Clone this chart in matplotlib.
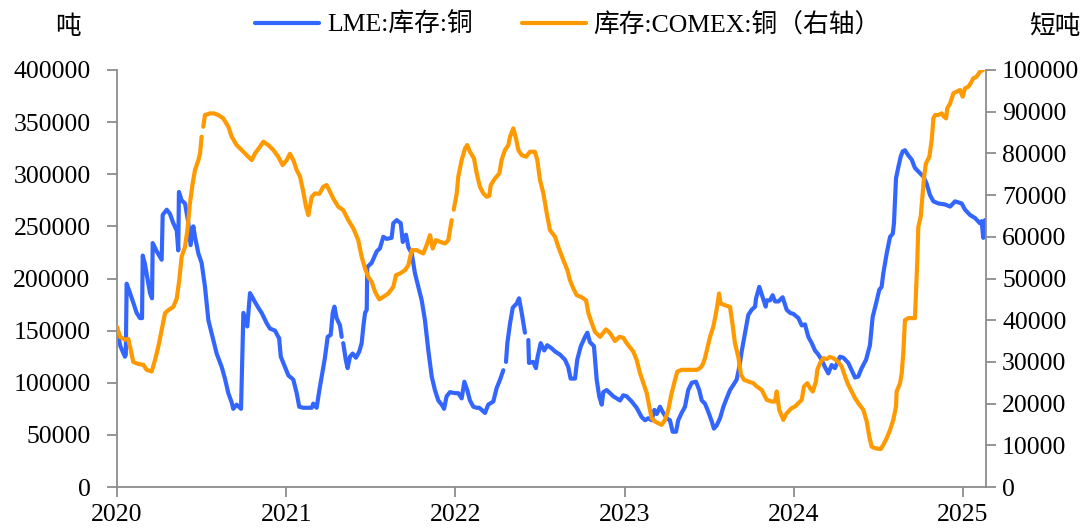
import numpy as np
import matplotlib
matplotlib.use("Agg")
import matplotlib.pyplot as plt

plt.rcParams['font.family'] = ['Liberation Serif', 'Noto Sans CJK SC']

# ---- data (decimal year, thousand tonnes / thousand short tons) ----
lme_t = [2020.000, 2020.020, 2020.047, 2020.052, 2020.057, 2020.077, 2020.100, 2020.116, 2020.136, 2020.148,
         2020.152, 2020.165, 2020.195, 2020.207, 2020.211, 2020.235, 2020.264, 2020.270, 2020.294, 2020.313,
         2020.333, 2020.353, 2020.362, 2020.366, 2020.382, 2020.402, 2020.422, 2020.435, 2020.451, 2020.461,
         2020.481, 2020.500, 2020.520, 2020.540, 2020.569, 2020.589, 2020.619, 2020.638, 2020.658, 2020.678,
         2020.687, 2020.707, 2020.733, 2020.747, 2020.770, 2020.786, 2020.810, 2020.835, 2020.855, 2020.885,
         2020.904, 2020.934, 2020.953, 2020.958, 2020.968, 2020.993, 2021.013, 2021.042, 2021.062, 2021.077,
         2021.101, 2021.151, 2021.160, 2021.180, 2021.196, 2021.210, 2021.229, 2021.245, 2021.263, 2021.275,
         2021.285, 2021.298, 2021.318, 2021.328, 2021.332, 2021.337, 2021.352, 2021.363, 2021.377, 2021.393,
         2021.412, 2021.432, 2021.446, 2021.456, 2021.466, 2021.476, 2021.479, 2021.505, 2021.535, 2021.554,
         2021.574, 2021.594, 2021.623, 2021.633, 2021.653, 2021.677, 2021.689, 2021.708, 2021.722, 2021.742,
         2021.761, 2021.781, 2021.801, 2021.820, 2021.840, 2021.860, 2021.879, 2021.899, 2021.919, 2021.933,
         2021.948, 2021.968, 2021.998, 2022.017, 2022.037, 2022.053, 2022.070, 2022.086, 2022.106, 2022.126,
         2022.141, 2022.155, 2022.175, 2022.194, 2022.224, 2022.244, 2022.264, 2022.283, 2022.291, 2022.299,
         2022.307, 2022.323, 2022.339, 2022.362, 2022.376, 2022.392, 2022.411, 2022.421, 2022.431, 2022.435,
         2022.460, 2022.476, 2022.486, 2022.504, 2022.525, 2022.543, 2022.569, 2022.589, 2022.618, 2022.648,
         2022.667, 2022.681, 2022.707, 2022.720, 2022.741, 2022.766, 2022.780, 2022.795, 2022.819, 2022.835,
         2022.850, 2022.865, 2022.874, 2022.894, 2022.914, 2022.933, 2022.953, 2022.973, 2022.992, 2023.012,
         2023.042, 2023.071, 2023.101, 2023.121, 2023.140, 2023.160, 2023.176, 2023.190, 2023.209, 2023.225,
         2023.249, 2023.268, 2023.284, 2023.304, 2023.317, 2023.337, 2023.357, 2023.376, 2023.397, 2023.422,
         2023.441, 2023.456, 2023.475, 2023.495, 2023.515, 2023.528, 2023.544, 2023.564, 2023.584, 2023.603,
         2023.623, 2023.643, 2023.662, 2023.678, 2023.692, 2023.712, 2023.731, 2023.751, 2023.771, 2023.777,
         2023.796, 2023.810, 2023.834, 2023.840, 2023.859, 2023.875, 2023.889, 2023.909, 2023.934, 2023.958,
         2023.978, 2023.998, 2024.027, 2024.047, 2024.066, 2024.086, 2024.106, 2024.125, 2024.145, 2024.165,
         2024.184, 2024.204, 2024.224, 2024.243, 2024.273, 2024.293, 2024.322, 2024.342, 2024.362, 2024.381,
         2024.401, 2024.427, 2024.450, 2024.466, 2024.486, 2024.505, 2024.519, 2024.529, 2024.549, 2024.569,
         2024.585, 2024.592, 2024.604, 2024.618, 2024.632, 2024.644, 2024.657, 2024.677, 2024.697, 2024.716,
         2024.746, 2024.765, 2024.785, 2024.805, 2024.825, 2024.854, 2024.894, 2024.924, 2024.953, 2024.992,
         2025.012, 2025.041, 2025.071, 2025.100, 2025.110, 2025.120, 2025.130]
lme_kt = [150, 135, 125, 127, 195, 186, 175, 167, 162, 162,
          222, 214, 186, 181, 234, 226, 218, 261, 266, 262,
          253, 246, 227, 283, 275, 272, 253, 232, 250, 240,
          224, 215, 192, 160, 141, 128, 115, 104, 90, 81,
          75, 79, 75, 167, 154, 186, 179, 172, 167, 157,
          152, 150, 144, 143, 125, 115, 107, 103, 90, 77,
          76, 76, 80, 76, 93, 106, 124, 144, 146, 167,
          173, 162, 155, 144, np.nan, 138, 122, 114, 125, 128,
          124, 130, 138, 154, 167, 170, 211, 215, 226, 229,
          240, 238, 239, 253, 256, 253, 235, 242, 230, 224,
          205, 192, 179, 160, 131, 106, 93, 83, 79, 75,
          87, 91, 90, 90, 85, 101, 93, 83, 77, 76,
          76, 74, 71, 79, 82, 95, 103, 112, np.nan, 120,
          138, 157, 172, 176, 181, 167, 148, np.nan, 141, 119,
          120, 114, 125, 138, 131, 136, 133, 130, 127, 122,
          115, 104, 104, 122, 135, 144, 148, 139, 135, 103,
          87, 79, 91, 93, 90, 87, 85, 83, 88, 87,
          82, 76, 67, 64, 66, 64, 74, 70, 77, 72,
          66, 64, 53, 53, 64, 71, 77, 93, 100, 101,
          93, 83, 80, 72, 63, 56, 59, 66, 77, 85,
          93, 98, 103, 115, 130, 148, 165, 170, 173, 181,
          192, 185, 173, 179, 179, 184, 178, 178, 182, 170,
          167, 166, 162, 155, 156, 144, 138, 131, 127, 122,
          115, 109, 117, 114, 125, 124, 119, 112, 105, 106,
          114, 122, 136, 163, 176, 189, 192, 205, 224, 240,
          243, 253, 296, 307, 317, 322, 323, 318, 314, 306,
          301, 298, 291, 280, 274, 272, 271, 269, 274, 272,
          266, 261, 258, 253, 255, 239, 256]

comex_t = [2020.000, 2020.018, 2020.047, 2020.067, 2020.077, 2020.096, 2020.126, 2020.156, 2020.175, 2020.205,
           2020.225, 2020.244, 2020.264, 2020.284, 2020.303, 2020.333, 2020.353, 2020.368, 2020.382, 2020.402,
           2020.416, 2020.431, 2020.447, 2020.461, 2020.481, 2020.491, 2020.500, 2020.505, 2020.510, 2020.520,
           2020.550, 2020.573, 2020.599, 2020.628, 2020.658, 2020.678, 2020.707, 2020.737, 2020.766, 2020.796,
           2020.816, 2020.845, 2020.865, 2020.894, 2020.924, 2020.953, 2020.979, 2021.003, 2021.022, 2021.042,
           2021.062, 2021.082, 2021.101, 2021.117, 2021.131, 2021.151, 2021.170, 2021.196, 2021.219, 2021.239,
           2021.259, 2021.278, 2021.308, 2021.337, 2021.367, 2021.397, 2021.426, 2021.446, 2021.466, 2021.485,
           2021.505, 2021.525, 2021.550, 2021.574, 2021.603, 2021.633, 2021.649, 2021.673, 2021.702, 2021.722,
           2021.742, 2021.771, 2021.810, 2021.830, 2021.850, 2021.866, 2021.885, 2021.909, 2021.939, 2021.958,
           2021.970, 2021.978, 2021.984, 2021.990, 2022.008, 2022.017, 2022.037, 2022.057, 2022.070, 2022.086,
           2022.110, 2022.126, 2022.145, 2022.165, 2022.185, 2022.200, 2022.209, 2022.234, 2022.260, 2022.273,
           2022.293, 2022.313, 2022.323, 2022.342, 2022.358, 2022.372, 2022.392, 2022.417, 2022.441, 2022.470,
           2022.484, 2022.500, 2022.520, 2022.540, 2022.559, 2022.589, 2022.608, 2022.638, 2022.662, 2022.677,
           2022.697, 2022.717, 2022.746, 2022.772, 2022.786, 2022.806, 2022.825, 2022.855, 2022.890, 2022.914,
           2022.943, 2022.969, 2022.992, 2023.012, 2023.051, 2023.071, 2023.091, 2023.111, 2023.131, 2023.146,
           2023.160, 2023.180, 2023.199, 2023.219, 2023.239, 2023.258, 2023.278, 2023.298, 2023.312, 2023.337,
           2023.367, 2023.397, 2023.426, 2023.446, 2023.461, 2023.475, 2023.491, 2023.505, 2023.524, 2023.538,
           2023.550, 2023.558, 2023.568, 2023.593, 2023.623, 2023.637, 2023.652, 2023.672, 2023.688, 2023.706,
           2023.731, 2023.761, 2023.781, 2023.810, 2023.840, 2023.869, 2023.889, 2023.899, 2023.914, 2023.938,
           2023.958, 2023.987, 2024.007, 2024.027, 2024.047, 2024.060, 2024.080, 2024.096, 2024.112, 2024.131,
           2024.139, 2024.155, 2024.175, 2024.194, 2024.214, 2024.234, 2024.263, 2024.283, 2024.303, 2024.322,
           2024.342, 2024.362, 2024.381, 2024.411, 2024.431, 2024.446, 2024.460, 2024.480, 2024.514, 2024.529,
           2024.549, 2024.569, 2024.588, 2024.604, 2024.608, 2024.628, 2024.638, 2024.647, 2024.657, 2024.677,
           2024.716, 2024.722, 2024.730, 2024.736, 2024.750, 2024.762, 2024.770, 2024.781, 2024.801, 2024.815,
           2024.825, 2024.835, 2024.854, 2024.874, 2024.888, 2024.900, 2024.907, 2024.924, 2024.943, 2024.963,
           2024.982, 2024.998, 2025.012, 2025.032, 2025.045, 2025.061, 2025.081, 2025.100, 2025.118]
comex_kst = [38.4, 36.0, 35.3, 35.5, 33.6, 30.0, 29.5, 29.3, 28.1, 27.7,
             30.5, 33.6, 37.6, 41.7, 42.4, 43.2, 45.2, 49.6, 55.2, 57.6,
             61.6, 68.0, 72.8, 76.0, 78.4, 80.0, 84.0, np.nan, 86.4, 89.2,
             89.6, 89.6, 89.2, 88.4, 86.4, 84.0, 82.0, 80.8, 79.6, 78.4,
             80.0, 81.6, 82.8, 82.0, 80.8, 79.2, 77.2, 78.4, 79.9, 78.4,
             76.0, 74.4, 70.8, 67.2, 65.2, 69.6, 70.4, 70.3, 72.0, 72.4,
             70.8, 69.2, 67.2, 66.4, 64.0, 62.0, 59.2, 55.2, 52.4, 50.4,
             49.2, 46.8, 45.0, 45.6, 46.4, 48.0, 50.8, 51.2, 52.0, 53.2,
             56.8, 56.8, 56.0, 58.0, 60.4, 57.2, 59.2, 58.8, 58.4, 59.2,
             62.0, 64.0, np.nan, 66.5, 70.4, 74.4, 78.4, 81.2, 82.0, 80.4,
             78.8, 75.2, 72.0, 70.4, 69.6, 69.8, 72.4, 74.0, 75.2, 78.4,
             80.8, 82.0, 84.0, 86.0, 83.6, 80.8, 79.6, 79.2, 80.4, 80.4,
             78.4, 73.6, 70.4, 65.6, 61.6, 60.0, 57.6, 54.4, 52.0, 49.6,
             47.6, 46.0, 45.5, 44.8, 41.7, 39.3, 37.2, 36.0, 37.8, 36.9,
             35.0, 36.0, 35.8, 34.5, 32.5, 30.5, 27.3, 24.9, 22.5, 19.3,
             16.5, 15.7, 15.3, 14.9, 16.1, 18.5, 22.5, 25.7, 27.7, 28.1,
             28.1, 28.1, 28.1, 28.5, 29.3, 30.9, 33.6, 36.0, 38.4, 41.2,
             44.0, 46.4, 44.0, 43.6, 43.2, 39.3, 34.5, 31.2, 26.9, 25.7,
             25.3, 24.9, 24.1, 23.3, 20.9, 20.5, 20.5, 22.9, 18.5, 16.1,
             17.7, 18.9, 19.3, 20.1, 20.9, 24.1, 24.9, 23.7, 22.9, 25.3,
             28.1, 29.7, 30.9, 30.7, 31.2, 30.9, 30.0, 28.9, 26.5, 24.5,
             22.9, 21.3, 20.1, 18.5, 15.7, 12.1, 9.7, 9.3, 9.1, 10.1,
             11.7, 13.7, 16.1, 19.3, 22.9, 24.9, 27.3, 32.1, 40.0, 40.5,
             40.5, 46.4, 54.4, 62.4, 64.8, 70.4, 74.4, 77.6, 79.2, 83.2,
             88.4, 89.2, 89.2, 89.6, 88.8, 88.4, 90.8, 92.0, 94.4, 94.8,
             95.2, 93.6, 95.6, 96.0, 96.8, 98.0, 98.4, 99.6, 100.0]

years = [2020, 2021, 2022, 2023, 2024, 2025]
left_ticks = list(range(0, 400001, 50000))
right_ticks = list(range(0, 100001, 10000))

lme_label = 'LME:库存:铜'
comex_label = '库存:COMEX:铜（右轴）'
left_unit = '吨'
right_unit = '短吨'

blue = '#3366FF'
orange = '#FF9900'
gray = '#8C8C8C'
fs = 18.5

fig = plt.figure(figsize=(10.91, 5.29), dpi=100)
ax = fig.add_axes([117 / 1091, 1 - 487 / 529, (985.5 - 117) / 1091, (487 - 70) / 529])
ax2 = ax.twinx()

l1, = ax.plot(lme_t, np.array(lme_kt) * 1000, color=blue, lw=3.0, label=lme_label,
              solid_joinstyle='round', solid_capstyle='round')
l2, = ax2.plot(comex_t, np.array(comex_kst) * 1000, color=orange, lw=3.0, label=comex_label,
               solid_joinstyle='round', solid_capstyle='round')

ax.set_xlim(2020, 2025.133)
ax.set_ylim(0, 400000)
ax2.set_ylim(0, 100000)
ax.set_xticks(years)
ax.set_xticklabels([str(y) for y in years])
ax.set_yticks(left_ticks)
ax.set_yticklabels([str(v) for v in left_ticks])
ax2.set_yticks(right_ticks)
ax2.set_yticklabels([str(v) for v in right_ticks])

for a in (ax, ax2):
    a.spines['top'].set_visible(False)
    for s in a.spines.values():
        s.set_color(gray)
        s.set_linewidth(1.3)
ax.spines['right'].set_visible(False)
ax2.spines['left'].set_visible(False)
ax2.spines['bottom'].set_visible(False)

ax.tick_params(axis='y', direction='out', length=7, width=1.3, color=gray, labelsize=fs, pad=12)
ax.tick_params(axis='x', direction='out', length=7, width=1.3, color=gray, labelsize=fs, pad=5)
ax2.tick_params(axis='y', direction='out', length=7, width=1.3, color=gray, labelsize=fs, pad=5)

fig.text(68 / 1091, 1 - 27 / 529, left_unit, fontsize=fs, ha='center', va='center')
fig.text(1055 / 1091, 1 - 27 / 529, right_unit, fontsize=fs, ha='center', va='center')

fig.legend(handles=[l1, l2], loc='center', bbox_to_anchor=(568 / 1091, 1 - 25 / 529), ncol=2,
           frameon=False, fontsize=fs, handlelength=2.5, handletextpad=0.3, columnspacing=1.9,
           borderaxespad=0, borderpad=0)

fig.savefig('out.png', dpi=100)
